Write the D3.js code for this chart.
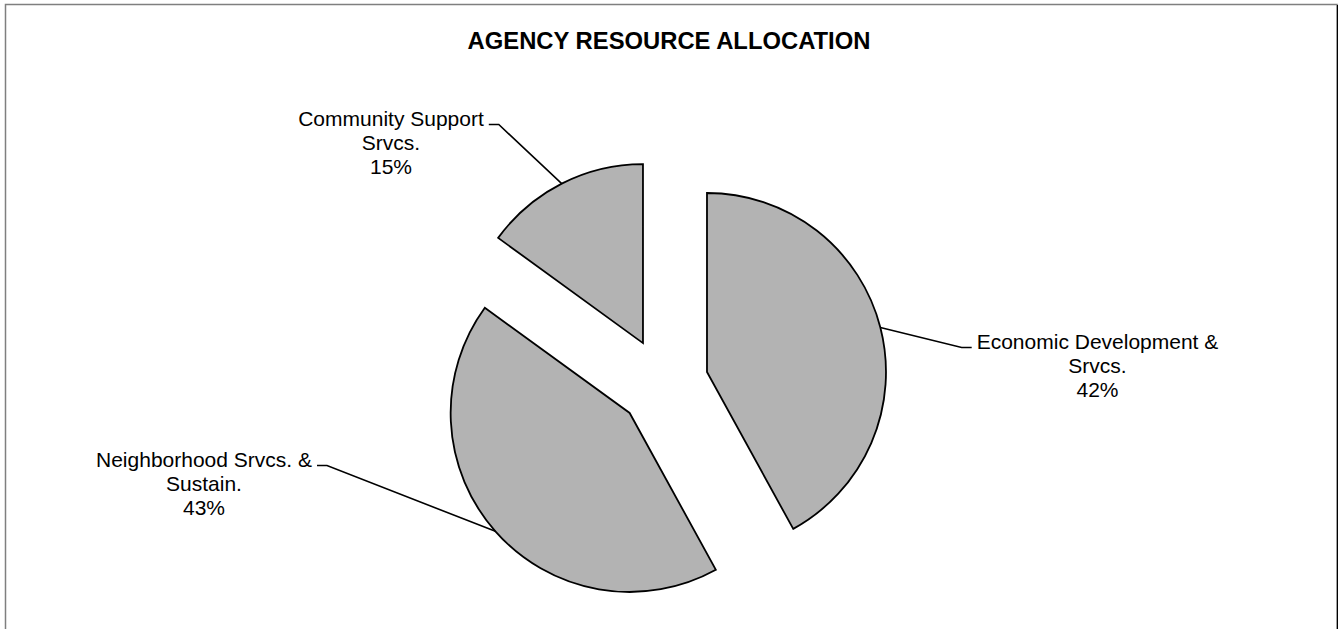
<!DOCTYPE html>
<html>
<head>
<meta charset="utf-8">
<script src="https://cdn.jsdelivr.net/npm/d3@7"></script>
<style>
  html, body { margin: 0; padding: 0; background: #fff; }
  svg { display: block; }
  text { font-family: "Liberation Sans", Arial, sans-serif; fill: #000; }
</style>
</head>
<body>
<svg id="chart" width="1338" height="629"></svg>
<script>
// Budget shares by program area (percent)
const categories = ["Economic Development & Srvcs.", "Neighborhood Srvcs. & Sustain.", "Community Support Srvcs."];
const labelLines = [["Economic Development &", "Srvcs."], ["Neighborhood Srvcs. &", "Sustain."], ["Community Support", "Srvcs."]];
const shares = [42, 43, 15];
const title = "AGENCY RESOURCE ALLOCATION";

// Label placement: text centre x, first baseline y, and which side the leader joins
const labelX = [1097.5, 204, 391];
const labelY = [349, 467, 126];
const labelSide = ["left", "right", "right"];

const W = 1338, H = 629;
const cx = 663.4, cy = 383.2, R = 179, explode = 45;

const svg = d3.select("#chart");

// Chart area frame
svg.append("rect")
  .attr("x", 5.5).attr("y", 4.5)
  .attr("width", 1331.5).attr("height", 660)
  .attr("fill", "none").attr("stroke", "#7f7f7f").attr("stroke-width", 1.5);
svg.append("line")
  .attr("x1", 1337.5).attr("x2", 1337.5).attr("y1", 5).attr("y2", H)
  .attr("stroke", "#000").attr("stroke-width", 1);

svg.append("text")
  .attr("x", 669).attr("y", 49)
  .attr("text-anchor", "middle")
  .attr("font-weight", "bold")
  .attr("font-size", 23.8)
  .text(title);

const data = categories.map((c, i) => ({ name: c, value: shares[i], lines: labelLines[i], i }));

const pie = d3.pie().sort(null).value(d => d.value).startAngle(0).endAngle(2 * Math.PI);
const arcs = pie(data);
const arcGen = d3.arc().innerRadius(0).outerRadius(R);

const fmt = d3.format(".0%");
const total = d3.sum(shares);

const g = svg.append("g").attr("transform", `translate(${cx},${cy})`);

arcs.forEach(a => {
  const mid = (a.startAngle + a.endAngle) / 2;
  const ox = Math.sin(mid) * explode, oy = -Math.cos(mid) * explode;
  const sg = g.append("g").attr("transform", `translate(${ox},${oy})`);
  sg.append("path")
    .attr("d", arcGen(a))
    .attr("fill", "#b3b3b3")
    .attr("stroke", "#000")
    .attr("stroke-width", 1.8)
    .attr("stroke-linejoin", "miter");

  // Leader line from the arc midpoint to the label
  const px = cx + ox + Math.sin(mid) * R;
  const py = cy + oy - Math.cos(mid) * R;
  const i = a.data.i;
  const lx = labelX[i], ly = labelY[i];
  const lines = a.data.lines;
  const fs = 21;

  const txt = svg.append("text")
    .attr("text-anchor", "middle")
    .attr("font-size", fs);
  lines.concat([fmt(a.data.value / total)]).forEach((s, k) => {
    txt.append("tspan").attr("x", lx).attr("y", ly + k * 23.8).text(s);
  });

  const w = txt.select("tspan").node().getComputedTextLength();
  const yl = ly - 1.5;
  let x0, x1;
  if (labelSide[i] === "left") { x1 = lx - w / 2 - 5; x0 = x1 - 10; }
  else { x0 = lx + w / 2 + 5; x1 = x0 + 10; }
  const near = labelSide[i] === "left" ? x0 : x1;
  const far = labelSide[i] === "left" ? x1 : x0;
  svg.append("path")
    .attr("d", `M${px},${py}L${near},${yl}L${far},${yl}`)
    .attr("fill", "none").attr("stroke", "#000").attr("stroke-width", 1.6);
});
</script>
</body>
</html>
